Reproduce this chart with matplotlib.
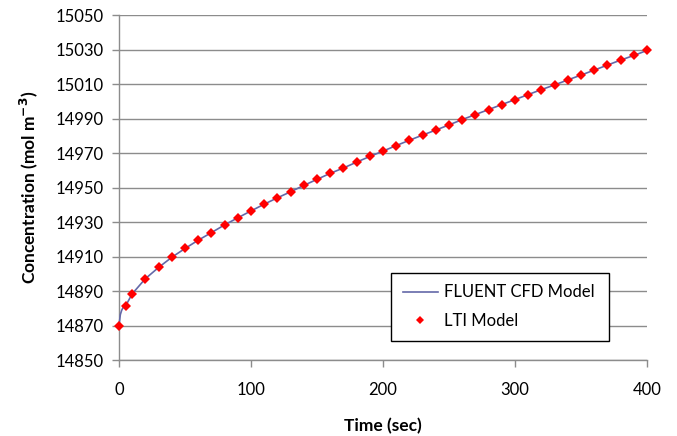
import matplotlib
matplotlib.use("Agg")
import matplotlib.pyplot as plt

# CFD reference curve (sampled finer near the start where it is steep)
cfd_time = [0, 1, 2, 3, 5, 10, 20, 30, 40, 50, 60, 70, 80, 90, 100, 110, 120, 130, 140,
            150, 160, 170, 180, 190, 200, 210, 220, 230, 240, 250, 260, 270, 280, 290,
            300, 310, 320, 330, 340, 350, 360, 370, 380, 390, 400]
cfd_conc = [14870.0, 14876.3, 14878.8, 14880.3, 14881.4, 14888.4, 14897.2, 14903.7,
            14909.6, 14914.7, 14919.5, 14923.9, 14928.4, 14932.5, 14936.5, 14940.4,
            14944.1, 14947.6, 14951.3, 14954.8, 14958.3, 14961.4, 14964.8, 14968.1,
            14971.2, 14974.4, 14977.5, 14980.5, 14983.4, 14986.4, 14989.5, 14992.4,
            14995.3, 14998.2, 15001.1, 15004.0, 15006.9, 15009.6, 15012.5, 15015.3,
            15018.2, 15021.1, 15024.0, 15026.7, 15029.6]

# LTI model points
lti_time = [0, 5, 10, 20, 30, 40, 50, 60, 70, 80, 90, 100, 110, 120, 130, 140, 150, 160,
            170, 180, 190, 200, 210, 220, 230, 240, 250, 260, 270, 280, 290, 300, 310,
            320, 330, 340, 350, 360, 370, 380, 390, 400]
lti_conc = [14870.0, 14881.4, 14888.4, 14897.2, 14903.7, 14909.6, 14914.7, 14919.5,
            14923.9, 14928.4, 14932.5, 14936.5, 14940.4, 14944.1, 14947.6, 14951.3,
            14954.8, 14958.3, 14961.4, 14964.8, 14968.1, 14971.2, 14974.4, 14977.5,
            14980.5, 14983.4, 14986.4, 14989.5, 14992.4, 14995.3, 14998.2, 15001.1,
            15004.0, 15006.9, 15009.6, 15012.5, 15015.3, 15018.2, 15021.1, 15024.0,
            15026.7, 15029.6]

x_ticks = [0, 100, 200, 300, 400]
y_ticks = list(range(14850, 15051, 20))

plt.rcParams['font.family'] = ['Lato', 'DejaVu Sans']

fig = plt.figure(figsize=(6.77, 4.36), dpi=100)
AX_L, AX_R, AX_T, AX_B = 119, 647, 15.3, 360
AW, AH = AX_R - AX_L, AX_B - AX_T
ax = fig.add_axes([AX_L/677, 1 - AX_B/436, AW/677, AH/436])

grid_c = '#8c8c8c'
ax.set_xlim(0, 400)
ax.set_ylim(14850, 15050)
ax.set_yticks(y_ticks)
ax.set_xticks(x_ticks)
ax.yaxis.grid(True, color=grid_c, linewidth=1.0)
ax.set_axisbelow(True)

for s in ['top', 'right']:
    ax.spines[s].set_visible(False)
for s in ['left', 'bottom']:
    ax.spines[s].set_color(grid_c)
    ax.spines[s].set_linewidth(1.0)

ax.tick_params(axis='both', colors=grid_c, labelcolor='black', labelsize=12,
               length=5, width=1.0, direction='out')
ax.tick_params(axis='y', pad=6)
ax.tick_params(axis='x', pad=10.5)

ax.plot(cfd_time, cfd_conc, color='#6468a8', linewidth=1.2, label='FLUENT CFD Model',
        clip_on=False, zorder=3)
ax.plot(lti_time, lti_conc, linestyle='none', marker='D', markersize=5.2,
        color='#ff0000', markeredgewidth=0, label='LTI Model', clip_on=False, zorder=4)

ax.set_xlabel('Time (sec)', fontsize=12.5, fontweight='bold', labelpad=15)
ax.set_ylabel('Concentration (mol m$^{\\mathbf{-3}}$)', fontsize=12.5, fontweight='bold',
              labelpad=11)

LG_L, LG_R, LG_T, LG_B = 391, 609, 272.7, 341.7
leg = ax.legend(loc='upper left',
                bbox_to_anchor=((LG_L - AX_L)/AW, (AX_B - LG_B)/AH,
                                (LG_R - LG_L)/AW, (LG_B - LG_T)/AH),
                mode='expand', fontsize=12, frameon=True, fancybox=False, framealpha=1,
                edgecolor='black', borderpad=0.7, labelspacing=0.75, handlelength=2.1,
                handletextpad=0.4, markerscale=0.75, borderaxespad=0)
leg.get_frame().set_linewidth(1.0)

fig.savefig('out.png', dpi=100)
